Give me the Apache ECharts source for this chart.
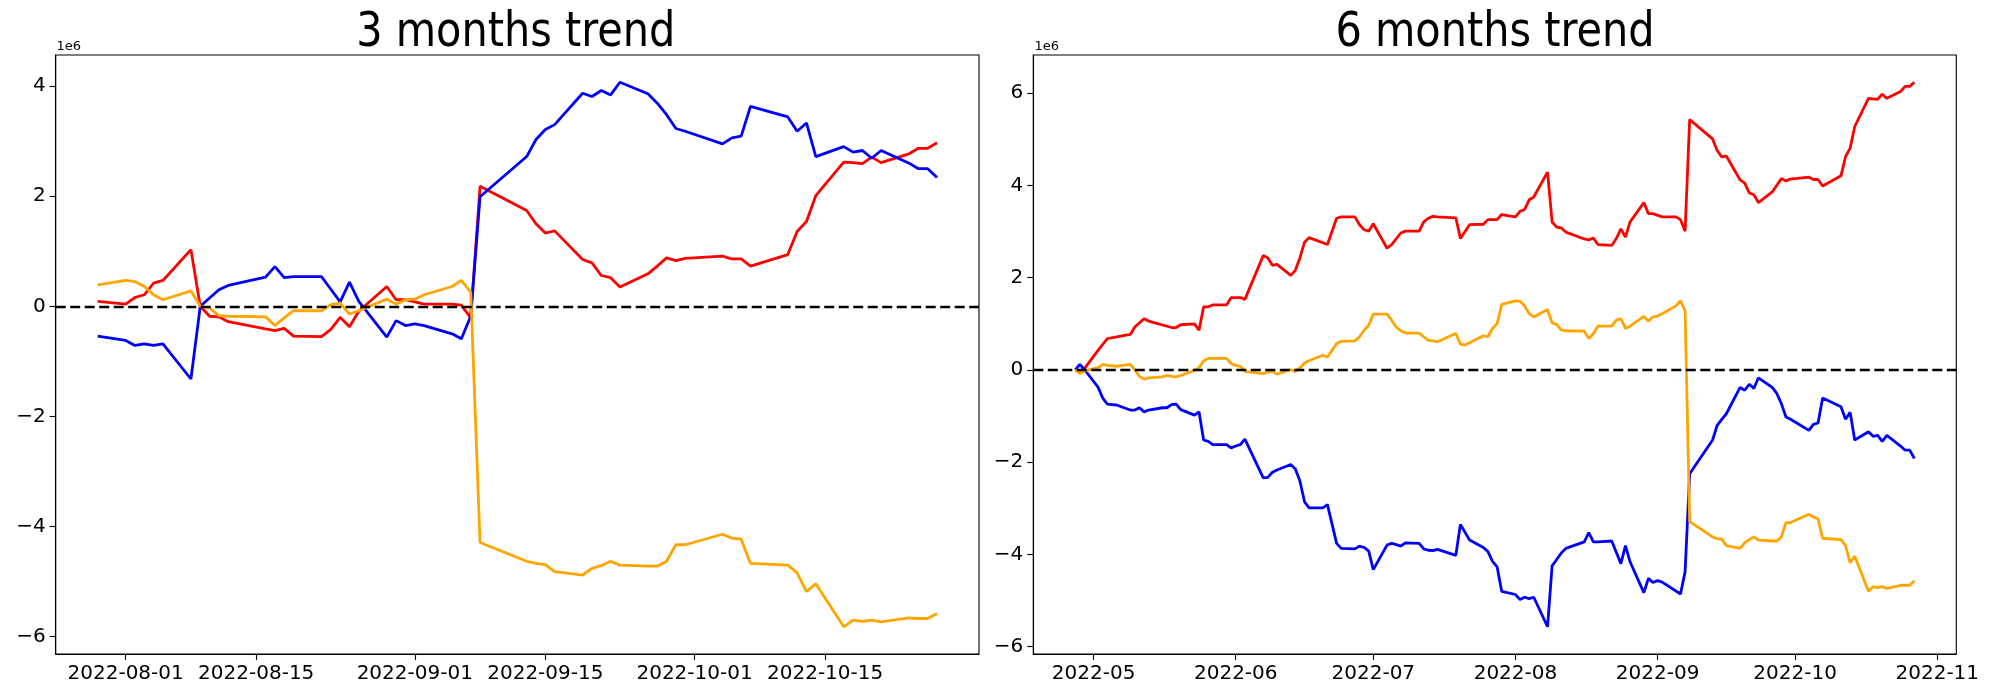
<!DOCTYPE html>
<html><head><meta charset="utf-8">
<script src="https://cdn.jsdelivr.net/npm/echarts@6/dist/echarts.min.js"></script>
<style>html,body{margin:0;padding:0;background:#fff}#c{width:2000px;height:700px}</style>
</head><body><div id="c"></div>
<script>
// ---------- 3 months trend (values in units of 1e6) ----------
const dates3 = ['2022-07-29','2022-08-01','2022-08-02','2022-08-03','2022-08-04','2022-08-05','2022-08-08','2022-08-09','2022-08-10','2022-08-11','2022-08-12','2022-08-16','2022-08-17','2022-08-18','2022-08-19','2022-08-22','2022-08-23','2022-08-24','2022-08-25','2022-08-26','2022-08-29','2022-08-30','2022-08-31','2022-09-01','2022-09-02','2022-09-05','2022-09-06','2022-09-07','2022-09-08','2022-09-13','2022-09-14','2022-09-15','2022-09-16','2022-09-19','2022-09-20','2022-09-21','2022-09-22','2022-09-23','2022-09-26','2022-09-27','2022-09-28','2022-09-29','2022-09-30','2022-10-04','2022-10-05','2022-10-06','2022-10-07','2022-10-11','2022-10-12','2022-10-13','2022-10-14','2022-10-17','2022-10-18','2022-10-19','2022-10-20','2022-10-21','2022-10-24','2022-10-25','2022-10-26','2022-10-27'];
const red3 = [0.09,0.04,0.16,0.21,0.42,0.47,1.03,0.0,-0.18,-0.19,-0.28,-0.41,-0.44,-0.40,-0.54,-0.55,-0.42,-0.20,-0.37,-0.09,0.36,0.12,0.12,0.08,0.04,0.04,0.02,-0.21,2.18,1.74,1.50,1.33,1.37,0.85,0.79,0.56,0.52,0.35,0.59,0.73,0.88,0.83,0.87,0.91,0.86,0.86,0.73,0.94,1.36,1.54,2.01,2.62,2.61,2.59,2.71,2.61,2.77,2.87,2.87,2.97];
const blue3 = [-0.54,-0.62,-0.71,-0.68,-0.71,-0.68,-1.32,0.0,0.15,0.30,0.38,0.53,0.72,0.52,0.54,0.54,0.31,0.08,0.44,0.09,-0.56,-0.26,-0.35,-0.32,-0.35,-0.50,-0.59,-0.18,1.99,2.72,3.03,3.21,3.30,3.87,3.81,3.92,3.84,4.07,3.86,3.69,3.48,3.23,3.18,2.95,3.06,3.09,3.63,3.44,3.18,3.33,2.72,2.90,2.80,2.83,2.69,2.83,2.60,2.50,2.50,2.34];
const orange3 = [0.39,0.47,0.45,0.36,0.21,0.12,0.28,0.0,-0.03,-0.17,-0.18,-0.19,-0.35,-0.21,-0.08,-0.08,0.03,0.06,-0.14,-0.08,0.13,0.04,0.12,0.13,0.21,0.36,0.47,0.26,-4.29,-4.63,-4.67,-4.69,-4.82,-4.88,-4.76,-4.71,-4.63,-4.70,-4.72,-4.72,-4.63,-4.33,-4.33,-4.14,-4.21,-4.23,-4.67,-4.70,-4.84,-5.18,-5.04,-5.82,-5.70,-5.72,-5.70,-5.73,-5.66,-5.67,-5.67,-5.58];
const xTicks3 = ['2022-08-01','2022-08-15','2022-09-01','2022-09-15','2022-10-01','2022-10-15'];
const yTicks3 = [-6,-4,-2,0,2,4];

// ---------- 6 months trend (values in units of 1e6) ----------
const red6Dates = ['2022-04-27','2022-04-28','2022-04-29','2022-05-02','2022-05-04','2022-05-09','2022-05-10','2022-05-12','2022-05-13','2022-05-18','2022-05-19','2022-05-20','2022-05-23','2022-05-24','2022-05-25','2022-05-26','2022-05-27','2022-05-30','2022-05-31','2022-06-02','2022-06-03','2022-06-07','2022-06-08','2022-06-09','2022-06-10','2022-06-13','2022-06-14','2022-06-15','2022-06-16','2022-06-17','2022-06-21','2022-06-23','2022-06-24','2022-06-27','2022-06-28','2022-06-29','2022-06-30','2022-07-01','2022-07-04','2022-07-05','2022-07-07','2022-07-08','2022-07-11','2022-07-12','2022-07-13','2022-07-14','2022-07-15','2022-07-19','2022-07-20','2022-07-22','2022-07-25','2022-07-26','2022-07-28','2022-07-29','2022-08-01','2022-08-02','2022-08-03','2022-08-04','2022-08-05','2022-08-08','2022-08-09','2022-08-10','2022-08-11','2022-08-12','2022-08-16','2022-08-17','2022-08-18','2022-08-19','2022-08-22','2022-08-23','2022-08-24','2022-08-25','2022-08-26','2022-08-29','2022-08-30','2022-08-31','2022-09-02','2022-09-05','2022-09-06','2022-09-07','2022-09-08','2022-09-13','2022-09-14','2022-09-15','2022-09-16','2022-09-19','2022-09-20','2022-09-21','2022-09-22','2022-09-23','2022-09-26','2022-09-28','2022-09-29','2022-09-30','2022-10-04','2022-10-05','2022-10-06','2022-10-07','2022-10-11','2022-10-12','2022-10-13','2022-10-14','2022-10-17','2022-10-19','2022-10-20','2022-10-21','2022-10-24','2022-10-25','2022-10-26','2022-10-27'];
const red6 = [0.0,-0.02,0.03,0.43,0.68,0.77,0.93,1.11,1.06,0.92,0.92,0.98,1.00,0.86,1.37,1.37,1.41,1.41,1.57,1.57,1.53,2.48,2.43,2.27,2.29,2.05,2.16,2.43,2.77,2.87,2.72,3.29,3.32,3.32,3.15,3.04,3.01,3.17,2.64,2.72,2.97,3.01,3.01,3.21,3.29,3.33,3.32,3.30,2.85,3.15,3.16,3.26,3.26,3.37,3.32,3.44,3.48,3.69,3.75,4.29,3.21,3.10,3.08,2.99,2.84,2.82,2.86,2.72,2.70,2.85,3.06,2.88,3.21,3.63,3.39,3.39,3.32,3.32,3.26,3.01,5.43,5.01,4.76,4.62,4.64,4.12,4.05,3.84,3.80,3.63,3.86,4.15,4.10,4.14,4.18,4.13,4.13,3.99,4.21,4.63,4.81,5.28,5.89,5.87,5.98,5.89,6.04,6.15,6.15,6.24];
const blue6Dates = ['2022-04-27','2022-04-28','2022-04-29','2022-05-02','2022-05-03','2022-05-04','2022-05-05','2022-05-06','2022-05-09','2022-05-10','2022-05-11','2022-05-12','2022-05-13','2022-05-16','2022-05-17','2022-05-18','2022-05-19','2022-05-20','2022-05-23','2022-05-24','2022-05-25','2022-05-26','2022-05-27','2022-05-30','2022-05-31','2022-06-01','2022-06-02','2022-06-03','2022-06-07','2022-06-08','2022-06-09','2022-06-10','2022-06-13','2022-06-14','2022-06-15','2022-06-16','2022-06-17','2022-06-20','2022-06-21','2022-06-23','2022-06-24','2022-06-27','2022-06-28','2022-06-29','2022-06-30','2022-07-01','2022-07-04','2022-07-05','2022-07-06','2022-07-07','2022-07-08','2022-07-11','2022-07-12','2022-07-13','2022-07-14','2022-07-15','2022-07-19','2022-07-20','2022-07-22','2022-07-25','2022-07-26','2022-07-27','2022-07-28','2022-07-29','2022-08-01','2022-08-02','2022-08-03','2022-08-04','2022-08-05','2022-08-08','2022-08-09','2022-08-10','2022-08-11','2022-08-12','2022-08-16','2022-08-17','2022-08-18','2022-08-19','2022-08-22','2022-08-24','2022-08-25','2022-08-26','2022-08-29','2022-08-30','2022-08-31','2022-09-01','2022-09-02','2022-09-06','2022-09-07','2022-09-08','2022-09-13','2022-09-14','2022-09-15','2022-09-16','2022-09-19','2022-09-20','2022-09-21','2022-09-22','2022-09-23','2022-09-26','2022-09-27','2022-09-28','2022-09-29','2022-09-30','2022-10-04','2022-10-05','2022-10-06','2022-10-07','2022-10-11','2022-10-12','2022-10-13','2022-10-14','2022-10-17','2022-10-18','2022-10-19','2022-10-20','2022-10-21','2022-10-24','2022-10-25','2022-10-26','2022-10-27'];
const blue6 = [0.0,0.12,0.01,-0.38,-0.61,-0.74,-0.75,-0.76,-0.87,-0.87,-0.82,-0.91,-0.87,-0.82,-0.82,-0.75,-0.74,-0.86,-0.98,-0.91,-1.52,-1.55,-1.62,-1.62,-1.69,-1.65,-1.62,-1.50,-2.34,-2.33,-2.22,-2.17,-2.05,-2.15,-2.41,-2.86,-2.99,-2.99,-2.92,-3.76,-3.87,-3.88,-3.82,-3.85,-3.93,-4.33,-3.80,-3.76,-3.79,-3.82,-3.75,-3.76,-3.88,-3.91,-3.92,-3.89,-4.02,-3.35,-3.69,-3.85,-3.94,-4.15,-4.27,-4.80,-4.87,-4.98,-4.93,-4.96,-4.93,-5.57,-4.25,-4.11,-3.97,-3.87,-3.73,-3.53,-3.73,-3.73,-3.71,-4.20,-3.81,-4.16,-4.83,-4.52,-4.61,-4.57,-4.60,-4.86,-4.38,-2.25,-1.52,-1.20,-1.07,-0.95,-0.38,-0.44,-0.31,-0.40,-0.17,-0.38,-0.51,-0.73,-1.02,-1.07,-1.31,-1.18,-1.15,-0.61,-0.80,-1.07,-0.92,-1.52,-1.34,-1.44,-1.42,-1.55,-1.42,-1.65,-1.74,-1.74,-1.92];
const orange6Dates = ['2022-04-27','2022-04-28','2022-04-29','2022-05-02','2022-05-03','2022-05-04','2022-05-05','2022-05-06','2022-05-09','2022-05-10','2022-05-11','2022-05-12','2022-05-13','2022-05-16','2022-05-17','2022-05-18','2022-05-19','2022-05-20','2022-05-23','2022-05-24','2022-05-25','2022-05-26','2022-05-27','2022-05-30','2022-05-31','2022-06-01','2022-06-02','2022-06-03','2022-06-07','2022-06-08','2022-06-09','2022-06-10','2022-06-13','2022-06-14','2022-06-15','2022-06-16','2022-06-17','2022-06-20','2022-06-21','2022-06-23','2022-06-24','2022-06-27','2022-06-28','2022-06-29','2022-06-30','2022-07-01','2022-07-04','2022-07-05','2022-07-06','2022-07-07','2022-07-08','2022-07-11','2022-07-12','2022-07-13','2022-07-14','2022-07-15','2022-07-19','2022-07-20','2022-07-21','2022-07-22','2022-07-25','2022-07-26','2022-07-27','2022-07-28','2022-07-29','2022-08-01','2022-08-02','2022-08-03','2022-08-04','2022-08-05','2022-08-08','2022-08-09','2022-08-10','2022-08-11','2022-08-12','2022-08-16','2022-08-17','2022-08-18','2022-08-19','2022-08-22','2022-08-23','2022-08-24','2022-08-25','2022-08-26','2022-08-29','2022-08-30','2022-08-31','2022-09-01','2022-09-02','2022-09-05','2022-09-06','2022-09-07','2022-09-08','2022-09-13','2022-09-14','2022-09-15','2022-09-16','2022-09-19','2022-09-20','2022-09-21','2022-09-22','2022-09-23','2022-09-26','2022-09-27','2022-09-28','2022-09-29','2022-09-30','2022-10-04','2022-10-05','2022-10-06','2022-10-07','2022-10-11','2022-10-12','2022-10-13','2022-10-14','2022-10-17','2022-10-18','2022-10-19','2022-10-20','2022-10-21','2022-10-24','2022-10-25','2022-10-26','2022-10-27'];
const orange6 = [0.0,-0.08,-0.02,0.05,0.12,0.10,0.09,0.08,0.12,0.0,-0.14,-0.20,-0.17,-0.15,-0.12,-0.14,-0.15,-0.12,-0.01,0.05,0.20,0.25,0.25,0.25,0.14,0.10,0.08,-0.03,-0.08,-0.04,-0.03,-0.09,0.01,-0.04,0.05,0.15,0.20,0.32,0.28,0.57,0.62,0.63,0.72,0.86,0.97,1.21,1.21,1.08,0.93,0.85,0.80,0.80,0.72,0.64,0.63,0.61,0.79,0.56,0.54,0.59,0.74,0.72,0.90,1.00,1.42,1.50,1.49,1.39,1.22,1.15,1.31,1.02,0.99,0.87,0.85,0.84,0.68,0.79,0.95,0.95,1.08,1.11,0.90,0.95,1.16,1.06,1.15,1.17,1.22,1.39,1.50,1.28,-3.29,-3.62,-3.66,-3.67,-3.81,-3.87,-3.75,-3.68,-3.62,-3.69,-3.71,-3.71,-3.62,-3.31,-3.31,-3.13,-3.19,-3.23,-3.65,-3.68,-3.81,-4.18,-4.04,-4.80,-4.70,-4.72,-4.70,-4.74,-4.67,-4.67,-4.67,-4.57];
const xTicks6 = ['2022-05-01','2022-06-01','2022-07-01','2022-08-01','2022-09-01','2022-10-01','2022-11-01'];
const yTicks6 = [-6,-4,-2,0,2,4,6];

const titles = ['3 months trend', '6 months trend'];
const offsetText = '1e6';

// ---------- helpers ----------
function ts(s){ const p = s.split('-').map(Number); return Date.UTC(p[0], p[1]-1, p[2]); }
function pad(n){ return n < 10 ? '0' + n : '' + n; }
function fmtDay(t){ const d = new Date(t); return d.getUTCFullYear() + '-' + pad(d.getUTCMonth()+1) + '-' + pad(d.getUTCDate()); }
function fmtMonth(t){ const d = new Date(t); return d.getUTCFullYear() + '-' + pad(d.getUTCMonth()+1); }
function pairs(dates, vals){ return dates.map((d, i) => [ts(d), vals[i]]); }
function limits(list){ // matplotlib-like 5% margins
  let mn = Infinity, mx = -Infinity;
  list.forEach(a => a.forEach(v => { if (v < mn) mn = v; if (v > mx) mx = v; }));
  const m = (mx - mn) * 0.05; return [mn - m, mx + m];
}
function yFmt(v){ v = Math.round(v); return v < 0 ? '\u2212' + Math.abs(v) : String(v); }

const FONT = 'DejaVu Sans';
const grids = [
  { left: 55.7, top: 55, width: 923.3, height: 599 },
  { left: 1033.3, top: 55, width: 923, height: 599 }
];
grids.forEach(g => Object.assign(g, { show: true, borderColor: '#000', borderWidth: 1.1, backgroundColor: '#fff', containLabel: false }));

const xl3 = limits([dates3.map(ts)]);
const xl6 = limits([red6Dates.map(ts), blue6Dates.map(ts), orange6Dates.map(ts)]);
const yl3 = limits([red3, blue3, orange3]);
const yl6 = limits([red6, blue6, orange6]);

function xAxis(gi, lim, ticks, fmt){
  return {
    type: 'value', gridIndex: gi, min: lim[0], max: lim[1],
    splitLine: { show: false },
    axisLine: { show: true, onZero: false, lineStyle: { color: '#000', width: 1.1 } },
    axisTick: { show: true, inside: false, length: 6, lineStyle: { color: '#000', width: 1.1 }, customValues: ticks.map(ts) },
    axisLabel: { show: true, margin: 10, fontSize: 20, fontFamily: FONT, color: '#000', customValues: ticks.map(ts), formatter: v => fmt(v) }
  };
}
function yAxis(gi, lim, ticks){
  return {
    type: 'value', gridIndex: gi, min: lim[0], max: lim[1],
    splitLine: { show: false },
    axisLine: { show: true, onZero: false, lineStyle: { color: '#000', width: 1.1 } },
    axisTick: { show: true, inside: false, length: 6, lineStyle: { color: '#000', width: 1.1 }, customValues: ticks },
    axisLabel: { show: true, margin: 10, fontSize: 20, fontFamily: FONT, color: '#000', customValues: ticks, formatter: v => yFmt(v) }
  };
}
function line(gi, data, color, withZero){
  const s = {
    type: 'line', xAxisIndex: gi, yAxisIndex: gi, data: data, showSymbol: false, symbol: 'none',
    lineStyle: { color: color, width: 2.8 }, itemStyle: { color: color }, z: 3, animation: false
  };
  if (withZero) {
    s.markLine = { silent: true, symbol: ['none', 'none'], label: { show: false }, animation: false,
      lineStyle: { color: '#000', width: 2.4, type: [10, 4.5] }, data: [{ yAxis: 0 }] };
  }
  return s;
}

const option = {
  animation: false,
  backgroundColor: '#fff',
  grid: grids,
  xAxis: [ xAxis(0, xl3, xTicks3, fmtDay), xAxis(1, xl6, xTicks6, fmtMonth) ],
  yAxis: [ yAxis(0, yl3, yTicks3), yAxis(1, yl6, yTicks6) ],
  series: [
    line(0, pairs(dates3, red3), '#ff0000'),
    line(0, pairs(dates3, blue3), '#0000ff'),
    line(0, pairs(dates3, orange3), '#ffa500', true),
    line(1, pairs(red6Dates, red6), '#ff0000'),
    line(1, pairs(blue6Dates, blue6), '#0000ff'),
    line(1, pairs(orange6Dates, orange6), '#ffa500', true)
  ],
  graphic: [
    { type: 'text', x: 515.8, y: 34, scaleX: 0.863, z: 10, style: { text: titles[0], fontSize: 48, fontFamily: FONT, fill: '#000', align: 'center', verticalAlign: 'middle' } },
    { type: 'text', x: 1495, y: 34, scaleX: 0.863, z: 10, style: { text: titles[1], fontSize: 48, fontFamily: FONT, fill: '#000', align: 'center', verticalAlign: 'middle' } },
    { type: 'text', x: 56.5, y: 46.8, z: 10, style: { text: offsetText, fontSize: 13, fontFamily: FONT, fill: '#000', align: 'left', verticalAlign: 'middle' } },
    { type: 'text', x: 1034.5, y: 46.8, z: 10, style: { text: offsetText, fontSize: 13, fontFamily: FONT, fill: '#000', align: 'left', verticalAlign: 'middle' } }
  ]
};
const chart = echarts.init(document.getElementById('c'), null, { renderer: 'canvas' });
chart.setOption(option);
</script>
</body></html>
